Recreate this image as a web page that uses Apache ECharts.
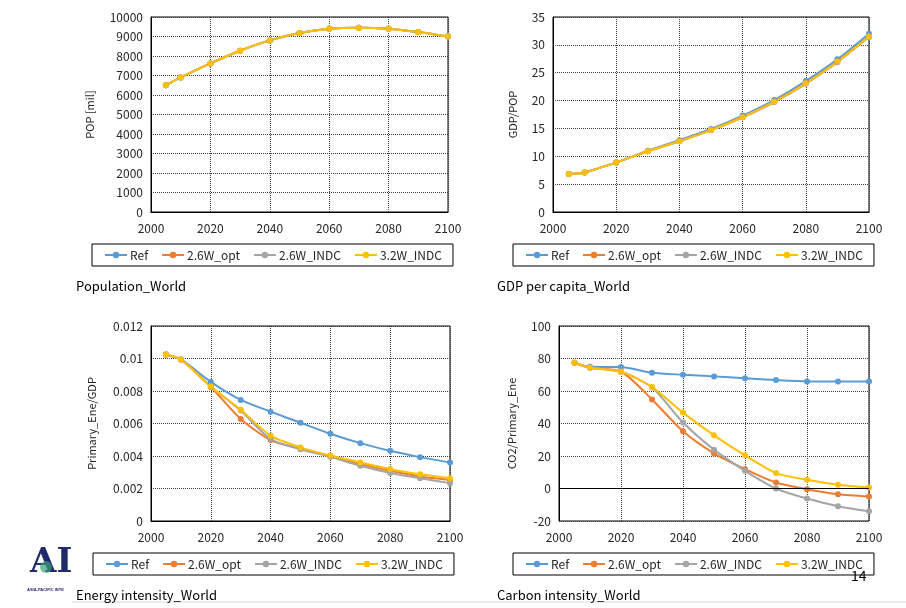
<!DOCTYPE html>
<html>
<head>
<meta charset="utf-8">
<script src="https://cdn.jsdelivr.net/npm/echarts@6/dist/echarts.min.js"></script>
<style>
  html, body { margin: 0; padding: 0; background: #fff; }
  #main { width: 906px; height: 608px; }
</style>
</head>
<body>
<div id="main"></div>
<script>
// years on the x axis
const years = [2005, 2010, 2020, 2030, 2040, 2050, 2060, 2070, 2080, 2090, 2100];
const seriesNames = ['Ref', '2.6W_opt', '2.6W_INDC', '3.2W_INDC'];
const colors = ['#5B9BD5', '#ED7D31', '#A5A5A5', '#FFC000'];

// Population_World  (POP [mil])
const popRef  = [6500, 6900, 7620, 8270, 8800, 9180, 9400, 9450, 9400, 9230, 9000];
const popOpt  = [6500, 6900, 7620, 8270, 8800, 9180, 9400, 9450, 9400, 9230, 9000];
const popIndc = [6500, 6900, 7620, 8270, 8800, 9180, 9400, 9450, 9400, 9230, 9000];
const pop32   = [6500, 6900, 7620, 8270, 8800, 9180, 9400, 9450, 9400, 9230, 9000];

// GDP per capita_World  (GDP/POP)
const gdpRef  = [6.8, 7.1, 8.9, 11.0, 12.9, 14.9, 17.3, 20.1, 23.5, 27.4, 32.0];
const gdpOpt  = [6.8, 7.1, 8.9, 10.9, 12.7, 14.7, 17.0, 19.8, 23.1, 27.0, 31.5];
const gdpIndc = [6.8, 7.1, 8.9, 10.9, 12.7, 14.7, 17.0, 19.7, 23.0, 26.9, 31.4];
const gdp32   = [6.8, 7.1, 8.9, 10.9, 12.7, 14.7, 17.0, 19.8, 23.1, 27.0, 31.5];

// Energy intensity_World  (Primary_Ene/GDP)
const eiRef  = [0.01025, 0.00994, 0.00856, 0.00745, 0.00673, 0.00605, 0.00537, 0.00479, 0.00432, 0.00393, 0.00360];
const eiOpt  = [0.01025, 0.00994, 0.00825, 0.00628, 0.00498, 0.00444, 0.00399, 0.00350, 0.00309, 0.00274, 0.00253];
const eiIndc = [0.01025, 0.00994, 0.00828, 0.00680, 0.00504, 0.00442, 0.00395, 0.00340, 0.00296, 0.00263, 0.00233];
const ei32   = [0.01025, 0.00994, 0.00827, 0.00685, 0.00525, 0.00453, 0.00403, 0.00360, 0.00319, 0.00288, 0.00263];

// Carbon intensity_World  (CO2/Primary_Ene)
const ciRef  = [77.4, 74.9, 74.7, 71.2, 70.0, 69.0, 67.9, 66.7, 65.9, 65.9, 65.9];
const ciOpt  = [77.4, 74.3, 72.0, 54.8, 35.2, 21.6, 11.9, 3.7, -0.4, -3.5, -4.9];
const ciIndc = [77.4, 74.3, 71.8, 62.2, 40.6, 23.9, 10.9, 0.0, -6.2, -10.9, -14.0];
const ci32   = [77.4, 74.5, 71.8, 62.4, 46.7, 32.7, 20.4, 9.5, 5.4, 2.3, 0.6];

const panels = [
  { title: 'Population_World', yName: 'POP [mil]', min: 0, max: 10000, interval: 1000, nameGap: 56,
    data: [popRef, popOpt, popIndc, pop32],
    grid: { left: 151, top: 17, width: 297, height: 195 }, legend: { left: 92, top: 244 }, titlePos: { left: 76, top: 280 } },
  { title: 'GDP per capita_World', yName: 'GDP/POP', min: 0, max: 35, interval: 5, nameGap: 35,
    data: [gdpRef, gdpOpt, gdpIndc, gdp32],
    grid: { left: 553, top: 17, width: 316, height: 195 }, legend: { left: 513, top: 244 }, titlePos: { left: 497, top: 280 } },
  { title: 'Energy intensity_World', yName: 'Primary_Ene/GDP', min: 0, max: 0.012, interval: 0.002, nameGap: 54,
    data: [eiRef, eiOpt, eiIndc, ei32],
    grid: { left: 151, top: 326, width: 299, height: 195 }, legend: { left: 93, top: 553 }, titlePos: { left: 76, top: 589 } },
  { title: 'Carbon intensity_World', yName: 'CO2/Primary_Ene', min: -20, max: 100, interval: 20, nameGap: 42, zeroLine: true,
    data: [ciRef, ciOpt, ciIndc, ci32],
    grid: { left: 559, top: 326, width: 310, height: 195 }, legend: { left: 513, top: 553 }, titlePos: { left: 497, top: 589 } }
];

const font = "'Noto Sans CJK JP', 'Noto Sans', sans-serif";
const textColor = '#262626';
const plain = function (v) { return String(+v.toPrecision(6)); };

const option = {
  backgroundColor: '#fff',
  animation: false,
  textStyle: { fontFamily: font },
  title: [],
  legend: [],
  grid: [],
  xAxis: [],
  yAxis: [],
  series: [],
  graphic: []
};

panels.forEach(function (p, i) {
  option.grid.push(Object.assign({ show: true, borderColor: '#000', borderWidth: 1, containLabel: false }, p.grid));
  option.xAxis.push({
    type: 'value', gridIndex: i, min: 2000, max: 2100, interval: 20,
    axisLine: { show: !p.zeroLine, onZero: false, lineStyle: { color: '#000' } },
    axisTick: { show: false },
    axisLabel: { color: textColor, fontSize: 12, margin: 10, fontFamily: font, formatter: plain },
    splitLine: { show: true, lineStyle: { color: '#404040', type: 'dotted', width: 1 } }
  });
  option.yAxis.push({
    type: 'value', gridIndex: i, min: p.min, max: p.max, interval: p.interval,
    name: p.yName, nameLocation: 'middle', nameGap: p.nameGap,
    nameTextStyle: { color: textColor, fontSize: 11, fontFamily: font },
    axisLine: { show: true, lineStyle: { color: '#000' } },
    axisTick: { show: false },
    axisLabel: { color: textColor, fontSize: 12, margin: 8, fontFamily: font, formatter: plain },
    splitLine: { show: true, lineStyle: { color: '#404040', type: 'dotted', width: 1 } }
  });
  option.title.push({
    text: p.title, left: p.titlePos.left, top: p.titlePos.top, padding: 0,
    textStyle: { color: '#000', fontSize: 13, fontWeight: 'normal', fontFamily: font }
  });
  option.legend.push({
    data: seriesNames,
    left: p.legend.left, top: p.legend.top,
    orient: 'horizontal',
    borderColor: '#000', borderWidth: 1, borderRadius: 0,
    padding: [5, 11, 5, 12],
    itemGap: 13, itemWidth: 22, itemHeight: 8,
    textStyle: { color: textColor, fontSize: 12, fontFamily: font, padding: [0, 0, 0, -2] }
  });
  p.data.forEach(function (vals, k) {
    const s = {
      name: seriesNames[k],
      type: 'line',
      xAxisIndex: i, yAxisIndex: i,
      data: years.map(function (y, j) { return [y, vals[j]]; }),
      symbol: 'circle', symbolSize: 6,
      smooth: 0.25,
      itemStyle: { color: colors[k] },
      lineStyle: { color: colors[k], width: 2 }
    };
    if (p.zeroLine && k === 0) {
      s.markLine = {
        silent: true, symbol: 'none', label: { show: false },
        lineStyle: { color: '#000', type: 'solid', width: 1 },
        data: [{ yAxis: 0 }]
      };
    }
    option.series.push(s);
  });
});

// page number
option.title.push({ text: '14', left: 851, top: 569, padding: 0,
  textStyle: { color: '#000', fontSize: 14, fontWeight: 'normal', fontFamily: font } });

// logo and slide footer rule
option.graphic = [
  { type: 'line', shape: { x1: 72, y1: 602, x2: 906, y2: 602 }, style: { stroke: '#d9d9d9', lineWidth: 1 } },
  { type: 'text', left: 30, top: 546, style: { text: 'AI', fill: '#1f2a6b', font: "bold 34px 'DejaVu Serif', serif" } },
  { type: 'circle', shape: { cx: 46, cy: 567, r: 6 }, style: { fill: '#3aa37a', opacity: 0.7 } },
  { type: 'text', left: 27, top: 588, style: { text: 'ASIA-PACIFIC INTE', fill: '#1f2a6b', font: "bold 4px sans-serif" } }
];

const chart = echarts.init(document.getElementById('main'), null, { renderer: 'canvas' });
chart.setOption(option);
</script>
</body>
</html>
